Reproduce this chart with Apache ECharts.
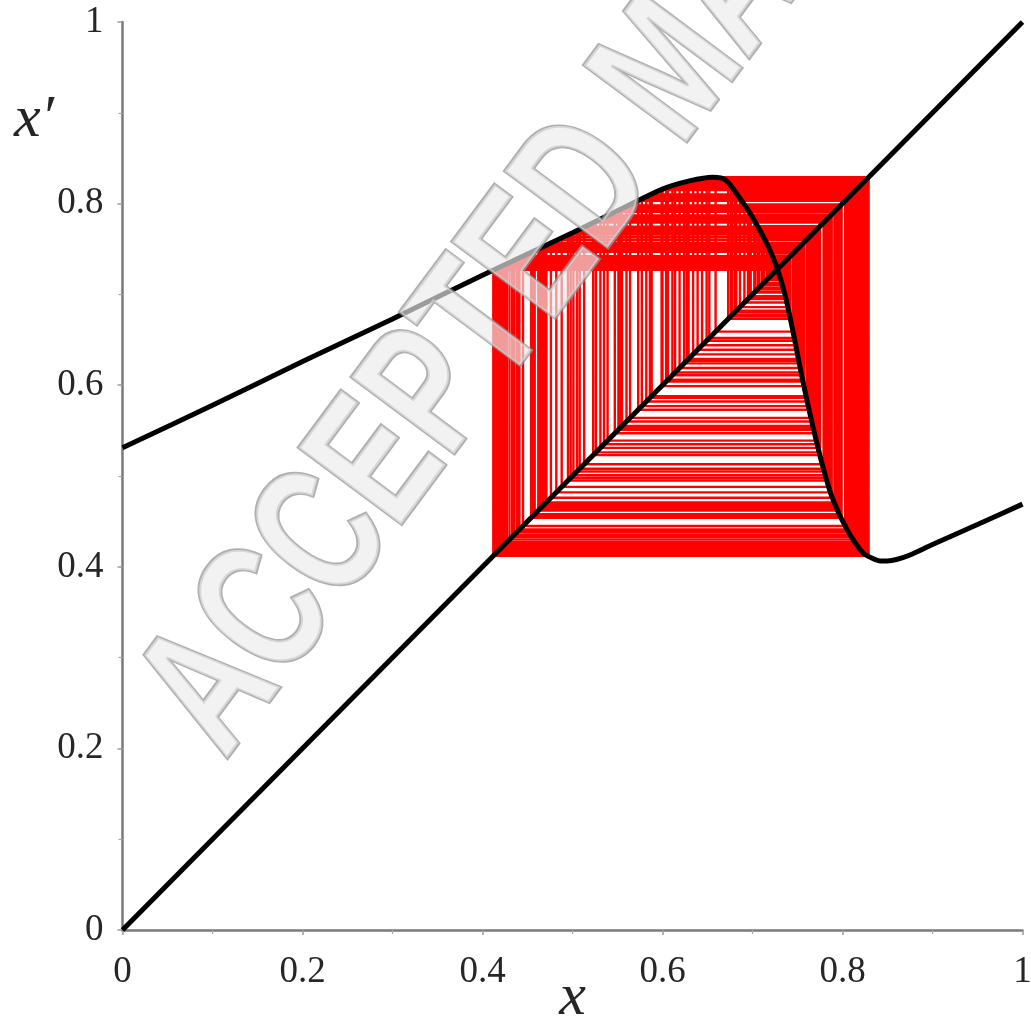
<!DOCTYPE html>
<html>
<head>
<meta charset="utf-8">
<script src="https://cdn.jsdelivr.net/npm/echarts@6/dist/echarts.min.js"></script>
<style>
  html, body { margin: 0; padding: 0; background: #ffffff; }
  #chart { width: 1031px; height: 1021px; }
</style>
</head>
<body>
<div id="chart"></div>
<script>
// Map x -> x' sampled along the black curve
const curveX = [0, 0.1, 0.2, 0.3, 0.4, 0.5, 0.55, 0.6, 0.63, 0.656, 0.67, 0.686, 0.697, 0.708,
  0.718, 0.727, 0.736, 0.745, 0.756, 0.767, 0.778, 0.789, 0.805, 0.823, 0.834, 0.842, 0.85, 0.86,
  0.875, 0.9, 0.95, 1.0];
const curveY = [0.531, 0.578, 0.626, 0.673, 0.721, 0.768, 0.792, 0.816, 0.825, 0.829, 0.826, 0.806, 0.79, 0.771,
  0.752, 0.73, 0.70, 0.659, 0.604, 0.555, 0.511, 0.475, 0.441, 0.415, 0.409, 0.4065, 0.4065, 0.408,
  0.413, 0.4245, 0.4465, 0.469];

// Identity line x' = x
const diagonalEnds = [0, 1];

// Successive iterates x0, x1, x2, ... of the orbit (cobweb)
const orbit = [
  0.600, 0.816, 0.426, 0.733, 0.710, 0.767, 0.555, 0.795, 0.462, 0.750,
  0.634, 0.824, 0.416, 0.729, 0.723, 0.740, 0.682, 0.811, 0.433, 0.737,
  0.695, 0.793, 0.467, 0.753, 0.619, 0.820, 0.420, 0.731, 0.717, 0.754,
  0.614, 0.819, 0.423, 0.732, 0.713, 0.762, 0.577, 0.805, 0.441, 0.741,
  0.677, 0.817, 0.427, 0.734, 0.707, 0.773, 0.531, 0.783, 0.495, 0.766,
  0.560, 0.797, 0.458, 0.749, 0.639, 0.824, 0.418, 0.730, 0.720, 0.747,
  0.649, 0.826, 0.415, 0.728, 0.725, 0.735, 0.703, 0.780, 0.505, 0.771,
  0.539, 0.787, 0.482, 0.760, 0.586, 0.809, 0.435, 0.738, 0.691, 0.799,
  0.454, 0.747, 0.652, 0.829, 0.412, 0.727, 0.731, 0.716, 0.756, 0.604,
  0.817, 0.424, 0.732, 0.713, 0.761, 0.582, 0.807, 0.438, 0.739, 0.686,
  0.806, 0.440, 0.740, 0.680, 0.813, 0.430, 0.735, 0.703, 0.779, 0.508,
  0.772, 0.535, 0.785, 0.488, 0.763, 0.573, 0.803, 0.445, 0.742, 0.673,
  0.821, 0.419, 0.730, 0.721, 0.745, 0.659, 0.829, 0.414, 0.728, 0.726,
  0.733, 0.710, 0.768, 0.551, 0.793, 0.465, 0.752, 0.624, 0.822, 0.417,
  0.729, 0.724, 0.737, 0.696, 0.792, 0.469, 0.754, 0.614, 0.819, 0.422,
  0.731, 0.717, 0.754, 0.611, 0.819, 0.421, 0.731, 0.718, 0.752, 0.627,
  0.824, 0.4165, 0.729, 0.7225, 0.741, 0.676, 0.818, 0.424, 0.733, 0.711,
  0.765, 0.564, 0.798, 0.456, 0.748, 0.644, 0.827, 0.413, 0.727, 0.7285,
  0.725, 0.7355, 0.702, 0.781, 0.501, 0.769, 0.547, 0.791, 0.471, 0.755,
  0.606, 0.818, 0.423, 0.732, 0.713, 0.760, 0.588, 0.810, 0.434, 0.737,
  0.698, 0.788, 0.476, 0.757, 0.599, 0.815, 0.427, 0.734, 0.706, 0.775,
  0.523, 0.779, 0.513, 0.7745, 0.526, 0.781, 0.498, 0.768, 0.553, 0.794,
  0.464, 0.751, 0.629, 0.825, 0.414, 0.728
];

const axisMin = 0, axisMax = 1, axisStep = 0.2;

// Cobweb path: vertical step to the curve, horizontal step back to the diagonal
const cobweb = [];
for (let i = 0; i < orbit.length - 1; i++) {
  cobweb.push([orbit[i], orbit[i]]);
  cobweb.push([orbit[i], orbit[i + 1]]);
}
cobweb.push([orbit[orbit.length - 1], orbit[orbit.length - 1]]);

const curve = curveX.map((x, i) => [x, curveY[i]]);
const diagonal = diagonalEnds.map(v => [v, v]);

const serif = '"Liberation Serif", "Times New Roman", serif';
const axisGrey = '#7a7a7a';

const axisCommon = {
  type: 'value',
  min: axisMin,
  max: axisMax,
  interval: axisStep,
  splitLine: { show: false },
  axisLine: { show: true, lineStyle: { color: axisGrey, width: 2.5 } },
  axisTick: { show: true, length: 5, lineStyle: { color: '#9a9a9a', width: 1.5 } },
  minorTick: { show: true, splitNumber: 2, length: 4, lineStyle: { color: '#a5a5a5', width: 1.2 } },
  axisLabel: { fontFamily: serif, fontSize: 37, color: '#262626' }
};

const chart = echarts.init(document.getElementById('chart'), null, { renderer: 'canvas' });
chart.setOption({
  animation: false,
  backgroundColor: '#ffffff',
  grid: { left: 122.5, right: 8.5, top: 22, bottom: 91, containLabel: false, outerBoundsMode: 'none' },
  xAxis: Object.assign({}, axisCommon, {
    name: 'x',
    nameLocation: 'middle',
    nameGap: 38,
    nameMoveOverlap: false,
    nameTextStyle: { fontFamily: serif, fontStyle: 'italic', fontSize: 60, color: '#262626' },
    axisLabel: Object.assign({}, axisCommon.axisLabel, { margin: 24 })
  }),
  yAxis: Object.assign({}, axisCommon, {
    axisLabel: Object.assign({}, axisCommon.axisLabel, { margin: 19, padding: [8, 0, 0, 0] })
  }),
  series: [
    {
      name: 'cobweb',
      type: 'line',
      data: cobweb,
      showSymbol: false,
      symbol: 'none',
      lineStyle: { color: '#ff0000', width: 2.4 },
      z: 1,
      silent: true
    },
    {
      name: 'diagonal',
      type: 'line',
      data: diagonal,
      showSymbol: false,
      symbol: 'none',
      lineStyle: { color: '#000000', width: 5 },
      z: 2
    },
    {
      name: 'map',
      type: 'line',
      data: curve,
      smooth: 0.3,
      showSymbol: false,
      symbol: 'none',
      lineStyle: { color: '#000000', width: 5 },
      z: 3
    }
  ],
  graphic: {
    elements: [
      {
        type: 'text',
        x: 14,
        y: 120,
        z: 50,
        style: {
          text: 'x\u2032',
          fontFamily: serif,
          fontStyle: 'italic',
          fontSize: 60,
          fill: '#262626',
          align: 'left',
          verticalAlign: 'middle'
        }
      },
      {
        type: 'text',
        x: 184,
        y: 730,
        rotation: 53.3 * Math.PI / 180,
        scaleX: 0.71,
        z: 100,
        silent: true,
        style: {
          text: 'ACCEPTED MANUSCRIPT',
          fontFamily: '"Liberation Sans", Arial, sans-serif',
          fontWeight: 'bold',
          fontSize: 186,
          fill: 'rgba(236,236,236,0.66)',
          stroke: 'rgba(150,150,150,0.75)',
          lineWidth: 4,
          align: 'left',
          verticalAlign: 'middle',
          shadowColor: 'rgba(0,0,0,0.3)',
          shadowBlur: 5,
          shadowOffsetX: 3,
          shadowOffsetY: 3
        }
      }
    ]
  }
});
</script>
</body>
</html>
